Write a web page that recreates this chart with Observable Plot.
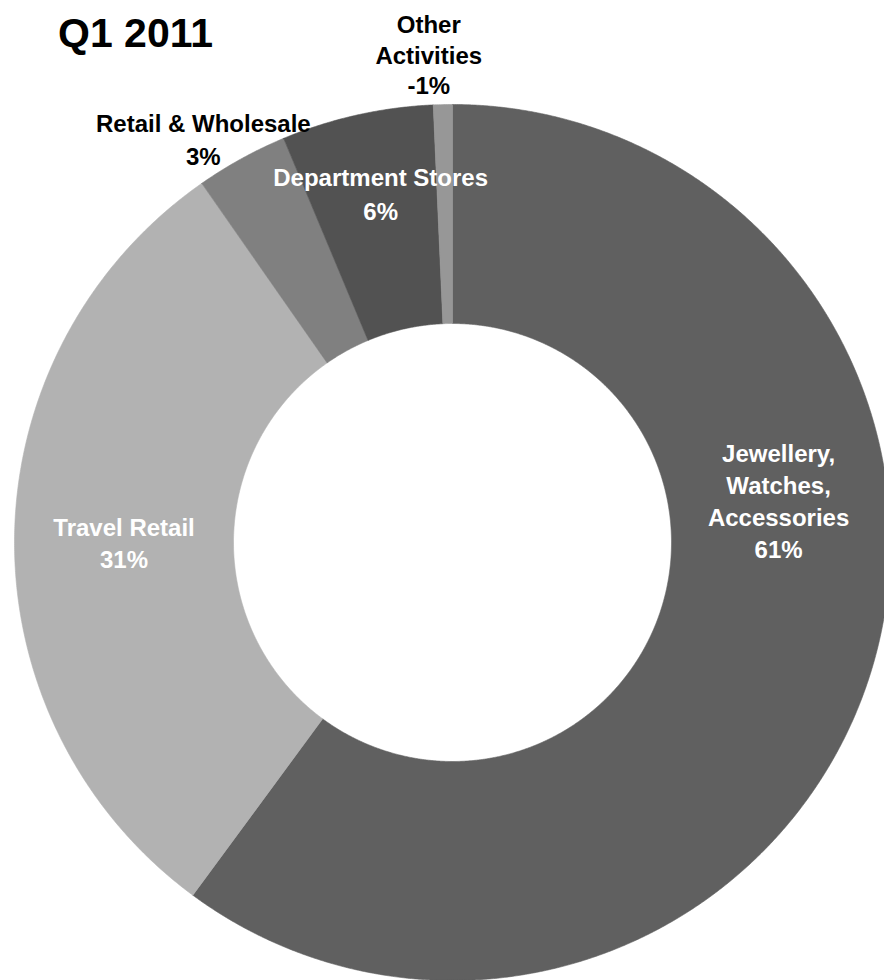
<!DOCTYPE html>
<html><head><meta charset="utf-8">
<script src="https://cdn.jsdelivr.net/npm/d3@7"></script>
<script src="https://cdn.jsdelivr.net/npm/@observablehq/plot@0.6"></script>
<style>
body{margin:0;background:#fff;}
#wrap{position:relative;width:884px;height:980px;overflow:hidden;}
#wrap svg{display:block;}
#title{position:absolute;left:58px;top:13px;font:bold 41px "Liberation Sans",Arial,sans-serif;line-height:1;color:#000;z-index:2;}
</style></head><body>
<div id="wrap"><div id="title">Q1 2011</div></div>
<script>
// ---- data (clockwise from 12 o'clock) ----
const categories = ["Jewellery, Watches, Accessories", "Travel Retail", "Retail & Wholesale", "Department Stores", "Other Activities"];
const labelNames = ["Jewellery,\nWatches,\nAccessories", "Travel Retail", "Retail & Wholesale", "Department Stores", "Other\nActivities"];
const shares = [60.1, 30.2, 3.4, 5.6, 0.7];          // slice sizes as drawn (%)
const percentLabels = ["61%", "31%", "3%", "6%", "-1%"];

// ---- styles ----
const sliceColors = ["#606060", "#b2b2b2", "#808080", "#525252", "#979797"];
const labelColors = ["white", "white", "black", "white", "black"];
const labelRadius = [0.75, 0.75, 1.086, 0.815, 1.116];
const labelNudge = [[14, -145], [0, 3], [-20, 12], [6, -2], [-13, 0]];
const labelLineHeight = [1.33, 1.33, 1.4, 1.42, 1.27];
const innerRadius = 0.5;
const font = '"Liberation Sans", Arial, sans-serif';

const arcs = d3.pie().sort(null).value(d => d)(shares);

const slicePoints = [];
arcs.forEach((p, i) => {
  const n = Math.max(6, Math.ceil((p.endAngle - p.startAngle) / (Math.PI / 720)));
  const angles = d3.range(n + 1).map(k => p.startAngle + (p.endAngle - p.startAngle) * k / n);
  const pts = [];
  angles.forEach(a => pts.push({x: Math.sin(a), y: Math.cos(a)}));
  angles.slice().reverse().forEach(a => pts.push({x: innerRadius * Math.sin(a), y: innerRadius * Math.cos(a)}));
  pts.push(pts[0]);
  pts.forEach(q => slicePoints.push({name: categories[i], color: sliceColors[i], x: q.x, y: q.y}));
});

const labels = arcs.map((p, i) => {
  const mid = (p.startAngle + p.endAngle) / 2;
  return {
    x: labelRadius[i] * Math.sin(mid),
    y: labelRadius[i] * Math.cos(mid),
    text: labelNames[i] + "\n" + percentLabels[i],
    color: labelColors[i],
    dx: labelNudge[i][0], dy: labelNudge[i][1], lh: labelLineHeight[i]
  };
});

const chart = Plot.plot({
  width: 884,
  height: 980,
  margin: 0,
  x: {domain: [-1, 1], range: [14, 890], axis: null},
  y: {domain: [-1, 1], range: [980, 104], axis: null},
  color: {type: "identity"},
  style: {background: "transparent"},
  marks: [
    Plot.line(slicePoints, {x: "x", y: "y", z: "name", fill: "color", stroke: "color", strokeWidth: 0.6, curve: "linear"}),
    ...labels.map(d => Plot.text([d], {
      x: "x", y: "y", text: "text", fill: "color",
      fontSize: 24, fontWeight: "bold", fontFamily: font,
      lineHeight: d.lh, dx: d.dx, dy: d.dy, textAnchor: "middle"
    }))
  ]
});
document.getElementById("wrap").appendChild(chart);
</script>
</body></html>
